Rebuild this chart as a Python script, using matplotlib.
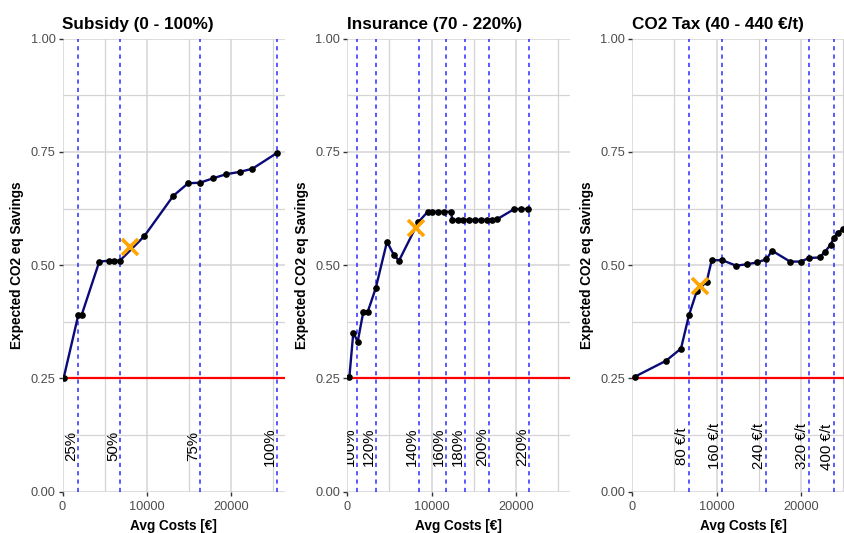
import matplotlib
matplotlib.use("Agg")
import matplotlib.pyplot as plt
from matplotlib.ticker import MultipleLocator

plt.rcParams['font.family'] = ['Liberation Sans', 'DejaVu Sans']

# --- data ---
titles = ["Subsidy (0 - 100%)", "Insurance (70 - 220%)", "CO2 Tax (40 - 440 €/t)"]

sub_cost = [150, 1876, 2273, 4368, 5556, 6149, 6821, 9710, 13148, 14929,
            16311, 17893, 19474, 21056, 22560, 25484]
sub_save = [0.252, 0.390, 0.390, 0.508, 0.510, 0.510, 0.510, 0.564, 0.653, 0.681,
            0.682, 0.692, 0.701, 0.706, 0.713, 0.748]

ins_cost = [250, 713, 1235, 1900, 2423, 3373, 4715, 5546, 6140, 8432, 9549, 10095,
            10808, 11485, 12316, 12470, 13112, 13777, 14454, 15166, 15879, 16556,
            17150, 17743, 19834, 20630, 21496]
ins_save = [0.254, 0.351, 0.331, 0.397, 0.397, 0.449, 0.552, 0.522, 0.510, 0.595,
            0.618, 0.618, 0.618, 0.618, 0.618, 0.600, 0.600, 0.600, 0.600, 0.600,
            0.600, 0.600, 0.600, 0.601, 0.624, 0.624, 0.624]

tax_cost = [321, 4002, 5784, 6734, 7648, 8836, 9430, 10689, 12316, 13620, 14774,
            15920, 16600, 18729, 20000, 21000, 22250, 22886, 23550, 23950, 24400,
            25000, 25700]
tax_save = [0.254, 0.289, 0.316, 0.390, 0.442, 0.464, 0.511, 0.511, 0.499, 0.502,
            0.506, 0.513, 0.532, 0.508, 0.508, 0.516, 0.517, 0.530, 0.545, 0.561,
            0.572, 0.579, 0.585]

# highlighted (orange x) point per panel
star_cost = [8010, 8120, 8040]
star_save = [0.540, 0.583, 0.455]

# dashed reference lines with labels
sub_marks = [1876, 6821, 16311, 25484]
sub_labels = ["25%", "50%", "75%", "100%"]
ins_marks = [1188, 3373, 8480, 11722, 13979, 16829, 21580]
ins_labels = ["100%", "120%", "140%", "160%", "180%", "200%", "220%"]
tax_marks = [6734, 10689, 15879, 20986, 23955]
tax_labels = ["80 €/t", "160 €/t", "240 €/t", "320 €/t", "400 €/t"]

baseline = 0.25

costs = [sub_cost, ins_cost, tax_cost]
saves = [sub_save, ins_save, tax_save]
marks = [sub_marks, ins_marks, tax_marks]
labels = [sub_labels, ins_labels, tax_labels]

W, H = 844, 533
fig = plt.figure(figsize=(W / 100, H / 100), dpi=100)
fig.patch.set_facecolor("white")

lefts = [62.5, 347.3, 632.3]
ax_w = 222.3
ax_top, ax_bot = 38.7, 491.7

for i in range(3):
    ax = fig.add_axes([lefts[i] / W, (H - ax_bot) / H, ax_w / W, (ax_bot - ax_top) / H])
    ax.set_xlim(0, 26400)
    ax.set_ylim(0, 1)
    for s in ax.spines.values():
        s.set_visible(False)
    ax.xaxis.set_major_locator(MultipleLocator(10000))
    ax.xaxis.set_minor_locator(MultipleLocator(5000))
    ax.yaxis.set_major_locator(MultipleLocator(0.25))
    ax.yaxis.set_minor_locator(MultipleLocator(0.125))
    ax.yaxis.set_major_formatter(lambda v, p: "%.2f" % v)
    ax.grid(which="major", color="#d4d4d4", lw=1.1, zorder=0)
    ax.grid(which="minor", color="#d4d4d4", lw=0.9, zorder=0)
    ax.tick_params(which="major", length=3, width=1, color="#333333",
                   labelcolor="#4d4d4d", labelsize=9.2, pad=2)
    ax.tick_params(axis="x", which="major", pad=4)
    ax.tick_params(which="minor", length=0)
    ax.set_axisbelow(True)

    for m, lab in zip(marks[i], labels[i]):
        ax.axvline(m, color="#2828ff", lw=1.2, ls=(0, (2.5, 2.5)), alpha=0.9, zorder=1)
        ax.text(m, 0.1, lab, rotation=90, ha="right", va="center", fontsize=10.8,
                color="black", clip_on=True, zorder=4)

    ax.axhline(baseline, color="red", lw=1.6, zorder=2)
    ax.plot(costs[i], saves[i], color="#0a0a78", lw=1.7, zorder=3)
    ax.plot(costs[i], saves[i], "o", color="black", ms=3.8, zorder=3)
    ax.plot(star_cost[i], star_save[i], "x", color="orange", ms=11, mew=2.6, zorder=5)

    ax.set_title(titles[i], loc="left", fontsize=12.3, fontweight="bold", pad=7)
    ax.set_xlabel("Avg Costs [€]", fontsize=9.8, fontweight="bold", labelpad=4)
    ax.set_ylabel("Expected CO2 eq Savings", fontsize=9.8, fontweight="bold", labelpad=5)

fig.savefig("out.png", dpi=100)
